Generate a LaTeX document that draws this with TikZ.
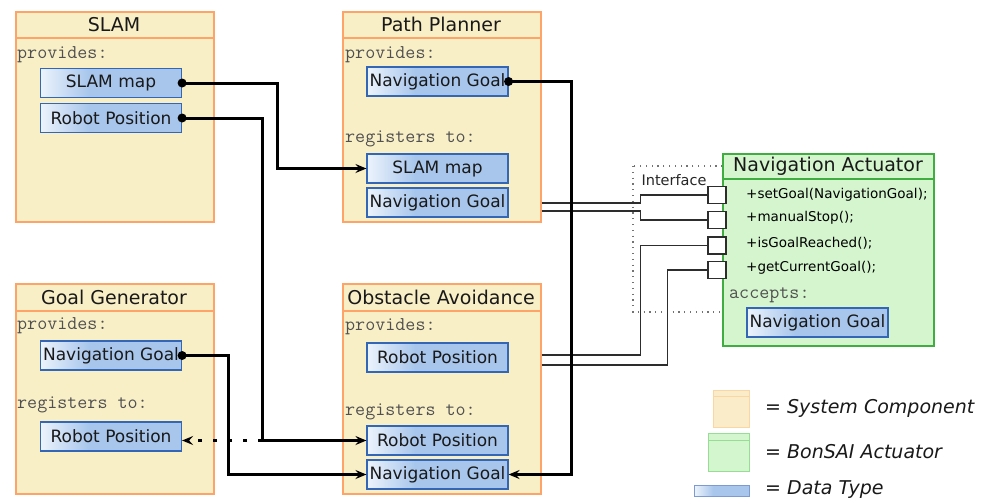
\documentclass[tikz,border=0pt]{standalone}
\usepackage{fontspec}
\setmainfont{DejaVu Sans}
\usetikzlibrary{arrows.meta}

\definecolor{compfill}{RGB}{249,239,199}
\definecolor{compdraw}{RGB}{255,164,104}
\definecolor{actfill}{RGB}{212,245,205}
\definecolor{actdraw}{RGB}{64,173,64}
\definecolor{dataL}{RGB}{236,243,252}
\definecolor{dataR}{RGB}{168,198,236}
\definecolor{datadraw}{RGB}{52,102,184}
\definecolor{monogray}{RGB}{80,80,80}
\definecolor{wire}{RGB}{45,45,45}
\definecolor{legcompfill}{RGB}{250,236,200}
\definecolor{legcompdraw}{RGB}{250,214,165}
\definecolor{legactfill}{RGB}{212,246,206}
\definecolor{legactdraw}{RGB}{150,222,150}
\definecolor{legdatadraw}{RGB}{125,155,210}

\pgfdeclarehorizontalshading{datashade}{100bp}{%
  color(0bp)=(dataL); color(25bp)=(dataL); color(42bp)=(dataR); color(100bp)=(dataR)}

\tikzset{
  comp/.style={draw=compdraw, fill=compfill, line width=1.5pt, inner sep=0pt,
    anchor=north west, minimum width=198pt, minimum height=210pt},
  divider/.style={draw=compdraw, line width=1.5pt},
  act/.style={draw=actdraw, fill=actfill, line width=2pt, inner sep=0pt, anchor=north west},
  title/.style={font=\fontsize{19}{22}\selectfont, inner sep=0pt, text=black!90},
  datatype/.style={draw=datadraw, line width=1.2pt, shade, shading=datashade,
    minimum width=141pt, minimum height=29pt, inner sep=0pt,
    font=\fontsize{17}{20}\selectfont, text=black!90},
  mono/.style={font=\ttfamily\fontsize{19.5}{22}\selectfont, text=monogray,
    anchor=west, inner sep=0pt},
  method/.style={font=\fontsize{13.5}{16}\selectfont, anchor=west, inner sep=0pt},
  port/.style={draw=wire, fill=white, line width=1.2pt, minimum width=18pt,
    minimum height=17pt, inner sep=0pt},
  link/.style={line width=3pt, -{Stealth[length=11pt,width=9pt,inset=4pt]}},
  linkdots/.style={link, dash pattern=on 4pt off 11pt},
  tap/.style={line width=1.2pt, draw=wire},
  ifacebox/.style={draw=black!55, line width=1.2pt, dash pattern=on 1.2pt off 4.6pt},
  legtext/.style={font=\itshape\fontsize{19}{22}\selectfont, anchor=west,
    inner sep=0pt, text=black!90},
}

\begin{document}
\begin{tikzpicture}[x=1pt, y=-1pt]
\useasboundingbox (0,0) rectangle (1002,499);

% ---------- SLAM ----------
\node[comp] (slam) at (15,11) {};
\draw[divider] ([yshift=-27pt]slam.north west) -- ([yshift=-27pt]slam.north east);
\node[title] (slam-t) at (114,24.5) {SLAM};
\node[mono] (slam-prov) at (17,55) {provides:};
\node[datatype] (slam-map) at (111,83) {SLAM map};
\node[datatype] (slam-pos) at (111,118) {Robot Position};

% ---------- Path Planner ----------
\node[comp] (pp) at (342,11) {};
\draw[divider] ([yshift=-27pt]pp.north west) -- ([yshift=-27pt]pp.north east);
\node[title] (pp-t) at (441,24.5) {Path Planner};
\node[mono] (pp-prov) at (345,55) {provides:};
\node[datatype] (pp-goal) at (437.5,81.5) {Navigation Goal};
\node[mono] (pp-reg) at (345,139) {registers to:};
\node[datatype] (pp-map) at (437.5,168.5) {SLAM map};
\node[datatype] (pp-goal-r) at (437.5,202.5) {Navigation Goal};

% ---------- Goal Generator ----------
\node[comp] (gg) at (15,283) {};
\draw[divider] ([yshift=-28pt]gg.north west) -- ([yshift=-28pt]gg.north east);
\node[title] (gg-t) at (114,297) {Goal Generator};
\node[mono] (gg-prov) at (17,326) {provides:};
\node[datatype] (gg-goal) at (111,355.5) {Navigation Goal};
\node[mono] (gg-reg) at (17,405) {registers to:};
\node[datatype] (gg-pos) at (111,436.5) {Robot Position};

% ---------- Obstacle Avoidance ----------
\node[comp] (oa) at (342,283) {};
\draw[divider] ([yshift=-28pt]oa.north west) -- ([yshift=-28pt]oa.north east);
\node[title] (oa-t) at (441,297) {Obstacle Avoidance};
\node[mono] (oa-prov) at (345,327) {provides:};
\node[datatype] (oa-pos-p) at (437.5,357.5) {Robot Position};
\node[mono] (oa-reg) at (345,412) {registers to:};
\node[datatype] (oa-pos-r) at (437.5,440.5) {Robot Position};
\node[datatype] (oa-goal) at (437.5,474.5) {Navigation Goal};

% ---------- Interface region ----------
\draw[ifacebox] (633,166) rectangle (726,312);
\node[font=\fontsize{14.5}{17}\selectfont, inner sep=0pt, text=black!85] (iface) at (674,180) {Interface};

% ---------- Navigation Actuator ----------
\node[act, minimum width=211pt, minimum height=192pt] (act) at (722,153) {};
\draw[draw=actdraw, line width=1.5pt] ([yshift=-26pt]act.north west) -- ([yshift=-26pt]act.north east);
\node[title] (act-t) at (828,166) {Navigation Actuator};
\node[method] (m1) at (746,195) {+setGoal(NavigationGoal);};
\node[method] (m2) at (746,218) {+manualStop();};
\node[method] (m3) at (746,243) {+isGoalReached();};
\node[method] (m4) at (746,268) {+getCurrentGoal();};
\node[mono] (act-acc) at (729,295) {accepts:};
\node[datatype] (act-goal) at (817.5,322.5) {Navigation Goal};

\node[port] (port1) at (717,195) {};
\node[port] (port2) at (717,220) {};
\node[port] (port3) at (717,245.5) {};
\node[port] (port4) at (717,270) {};

% ---------- interface wiring ----------
\draw[tap] ([yshift=-0.5pt]pp-goal-r.east -| pp.east) -- ++(99,0) |- (port1.west);
\draw[tap] ([yshift=-8.5pt]pp-goal-r.east -| pp.east) -- ++(99,0) |- (port2.west);
\draw[tap] ([yshift=2.5pt]oa-pos-p.east -| oa.east) -- ++(99,0) |- (port3.west);
\draw[tap] ([yshift=-7.5pt]oa-pos-p.east -| oa.east) -- ++(126,0) |- (port4.west);

% ---------- data links ----------
\draw[link] (slam-map.east) -- ++(95,0) |- (pp-map.west);
\fill (slam-map.east) circle (4.5pt);

\draw[link] (slam-pos.east) -- ++(80,0) |- (oa-pos-r.west);
\fill (slam-pos.east) circle (4.5pt);
\coordinate (j1) at ([xshift=80pt]slam-pos.east |- oa-pos-r.west);
\draw[linkdots] (j1) -- (gg-pos.east |- j1);

\draw[link] (gg-goal.east) -- ++(46,0) |- (oa-goal.west);
\fill (gg-goal.east) circle (4.5pt);

\draw[link] (pp-goal.east) -- ++(63,0) |- (oa-goal.east);
\fill (pp-goal.east) circle (4.5pt);

% ---------- legend ----------
\node[draw=legcompdraw, fill=legcompfill, line width=1pt, anchor=north west,
  minimum width=36pt, minimum height=37pt, inner sep=0pt] (leg-comp) at (713,390) {};
\draw[legcompdraw, line width=1pt] ([yshift=-6pt]leg-comp.north west) -- ([yshift=-6pt]leg-comp.north east);
\node[legtext] (leg-comp-t) at (765,408) {= System Component};

\node[draw=legactdraw, fill=legactfill, line width=1pt, anchor=north west,
  minimum width=41pt, minimum height=38pt, inner sep=0pt] (leg-act) at (708,433) {};
\draw[legactdraw, line width=1pt] ([yshift=-7pt]leg-act.north west) -- ([yshift=-7pt]leg-act.north east);
\node[legtext] (leg-act-t) at (765,452) {= BonSAI Actuator};

\node[draw=legdatadraw, line width=1pt, shade, shading=datashade, anchor=north west,
  minimum width=55pt, minimum height=11pt, inner sep=0pt] (leg-data) at (694,485) {};
\node[legtext] (leg-data-t) at (765,490) {= Data Type};
\end{tikzpicture}
\end{document}
